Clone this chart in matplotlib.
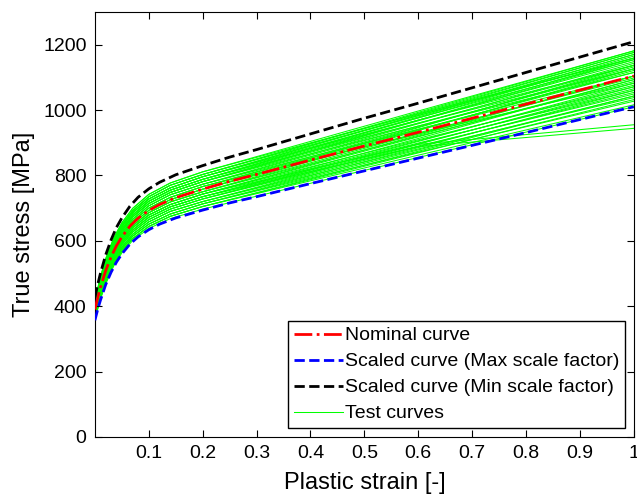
import matplotlib
matplotlib.use("Agg")
import matplotlib.pyplot as plt

plt.rcParams['font.family'] = ['Liberation Sans', 'DejaVu Sans']

# strain grid for the nominal / scaled curves
strain = [0, 0.005, 0.01, 0.02, 0.03, 0.04, 0.05, 0.065, 0.08, 0.1, 0.12, 0.15,
          0.2, 0.25, 0.3, 0.4, 0.5, 0.6, 0.7, 0.8, 0.9, 1.0]
nominal = [390, 425, 456, 509, 551, 585, 612, 645, 669, 693, 711, 732,
           758, 782, 803, 847, 890, 932, 975, 1018, 1061, 1104]
scaled_max = [357, 389, 417, 466, 504, 535, 560, 590, 612, 634, 651, 670,
              694, 716, 735, 775, 814, 853, 892, 931, 971, 1010]
scaled_min = [427, 465, 499, 557, 603, 641, 670, 706, 733, 759, 779, 802,
              830, 856, 879, 927, 975, 1021, 1068, 1115, 1162, 1209]

# test curves, read at a coarser strain grid
test_strain = [0, 0.01, 0.02, 0.035, 0.05, 0.07, 0.1, 0.14, 0.2, 0.6, 1.0]
test_curves = [
    [417, 488, 545, 609, 655, 699, 742, 777, 811, 997, 1181],
    [413, 483, 540, 603, 649, 692, 735, 770, 803, 990, 1176],
    [413, 483, 540, 603, 649, 692, 735, 770, 803, 983, 1159],
    [410, 479, 534, 597, 643, 686, 728, 762, 796, 983, 1170],
    [410, 479, 534, 597, 643, 686, 728, 762, 796, 976, 1154],
    [406, 474, 529, 592, 636, 679, 721, 755, 788, 976, 1165],
    [406, 474, 529, 592, 636, 679, 721, 755, 788, 969, 1148],
    [402, 470, 524, 586, 630, 673, 714, 748, 781, 967, 1154],
    [402, 470, 524, 586, 630, 673, 714, 748, 781, 960, 1137],
    [398, 465, 519, 580, 624, 666, 707, 741, 773, 958, 1143],
    [398, 465, 519, 580, 624, 666, 707, 741, 773, 951, 1126],
    [394, 461, 514, 575, 618, 660, 700, 733, 766, 948, 1132],
    [394, 461, 514, 575, 618, 660, 700, 733, 766, 941, 1115],
    [390, 456, 509, 569, 612, 653, 693, 726, 758, 939, 1121],
    [390, 456, 509, 569, 612, 653, 693, 726, 758, 930, 1098],
    [386, 451, 504, 563, 606, 646, 686, 719, 750, 927, 1104],
    [386, 451, 504, 563, 606, 646, 686, 719, 750, 920, 1087],
    [382, 447, 499, 558, 600, 640, 679, 711, 743, 918, 1093],
    [382, 447, 499, 558, 600, 640, 679, 711, 743, 909, 1071],
    [378, 442, 494, 552, 594, 633, 672, 704, 735, 906, 1076],
    [378, 442, 494, 552, 594, 633, 672, 704, 735, 899, 1060],
    [374, 438, 489, 546, 588, 627, 665, 697, 728, 897, 1065],
    [374, 438, 489, 546, 588, 627, 665, 697, 728, 890, 1049],
    [371, 433, 484, 541, 581, 620, 658, 690, 720, 888, 1054],
    [371, 433, 484, 541, 581, 620, 658, 690, 720, 881, 1038],
    [367, 429, 478, 535, 575, 614, 651, 682, 713, 878, 1043],
    [367, 429, 478, 535, 575, 614, 651, 682, 713, 871, 1027],
    [363, 424, 473, 529, 569, 607, 644, 675, 705, 869, 1032],
    [363, 424, 473, 529, 569, 607, 644, 675, 705, 862, 1016],
    [359, 420, 468, 523, 563, 601, 638, 668, 697, 855, 1010],
    [382, 447, 499, 558, 600, 640, 679, 711, 743, 895, 955],
    [378, 442, 494, 552, 594, 633, 672, 704, 735, 888, 944],
    [417, 488, 545, 609, 655, 699, 742, 777, 811, 988, 1159],
    [413, 483, 540, 603, 649, 692, 735, 770, 803, 993, 1181],
    [410, 479, 534, 597, 643, 686, 728, 762, 796, 969, 1137],
    [406, 474, 529, 592, 636, 679, 721, 755, 788, 960, 1126],
    [402, 470, 524, 586, 630, 673, 714, 748, 781, 951, 1115],
    [398, 465, 519, 580, 624, 666, 707, 741, 773, 941, 1104],
    [394, 461, 514, 575, 618, 660, 700, 733, 766, 927, 1082],
    [390, 456, 509, 569, 612, 653, 693, 726, 758, 946, 1137],
    [386, 451, 504, 563, 606, 646, 686, 719, 750, 937, 1126],
    [382, 447, 499, 558, 600, 640, 679, 711, 743, 923, 1104],
    [378, 442, 494, 552, 594, 633, 672, 704, 735, 913, 1093],
    [374, 438, 489, 546, 588, 627, 665, 697, 728, 904, 1082],
    [371, 433, 484, 541, 581, 620, 658, 690, 720, 895, 1071],
    [367, 429, 478, 535, 575, 614, 651, 682, 713, 885, 1060],
    [363, 424, 473, 529, 569, 607, 644, 675, 705, 874, 1043],
    [410, 479, 534, 597, 643, 686, 728, 762, 796, 986, 1176],
    [406, 474, 529, 592, 636, 679, 721, 755, 788, 979, 1170],
    [402, 470, 524, 586, 630, 673, 714, 748, 781, 969, 1159],
]

xticks = [0.1, 0.2, 0.3, 0.4, 0.5, 0.6, 0.7, 0.8, 0.9, 1]
xticklabels = ['0.1', '0.2', '0.3', '0.4', '0.5', '0.6', '0.7', '0.8', '0.9', '1']
yticks = [0, 200, 400, 600, 800, 1000, 1200]

fig = plt.figure(figsize=(6.37, 4.98), dpi=100)
ax = fig.add_axes([0.149, 0.1225, 0.846, 0.8535])

for curve in test_curves:
    l_test, = ax.plot(test_strain, curve, color='#00ff00', lw=0.75, zorder=1)

l_nom, = ax.plot(strain, nominal, color='red', ls='-.', lw=2, zorder=3)
l_max, = ax.plot(strain, scaled_max, color='blue', ls='--', lw=2, zorder=3)
l_min, = ax.plot(strain, scaled_min, color='black', ls='--', lw=2, zorder=3)

ax.set_xlim(0, 1)
ax.set_ylim(0, 1300)
ax.set_xticks(xticks)
ax.set_xticklabels(xticklabels)
ax.set_yticks(yticks)
ax.tick_params(direction='in', top=True, right=True, length=5, labelsize=14, pad=6)
ax.set_xlabel('Plastic strain [-]', fontsize=17, labelpad=7)
ax.set_ylabel('True stress [MPa]', fontsize=17, labelpad=6)

leg = ax.legend([l_nom, l_max, l_min, l_test],
                ['Nominal curve', 'Scaled curve (Max scale factor)',
                 'Scaled curve (Min scale factor)', 'Test curves'],
                loc='lower right', fontsize=14, fancybox=False, framealpha=1,
                edgecolor='black', handlelength=2.5, handletextpad=0.1,
                labelspacing=0.43, borderpad=0.3, borderaxespad=0.45)
leg.get_frame().set_linewidth(1)

plt.savefig('out.png', dpi=100)
